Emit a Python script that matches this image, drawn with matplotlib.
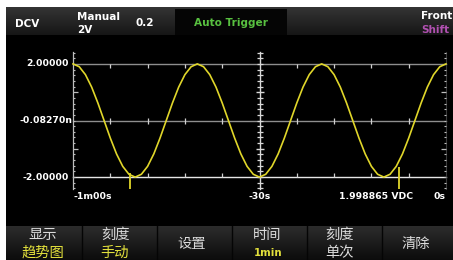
import numpy as np
import matplotlib
matplotlib.use("Agg")
import matplotlib.pyplot as plt
from matplotlib.transforms import offset_copy

# ---------------- data ----------------
time_s = list(range(-60, 1))
dcv_values = [
    2.00, 1.90, 1.62, 1.18, 0.62, 0.00, -0.62, -1.18, -1.62, -1.90,
    -2.00, -1.90, -1.62, -1.18, -0.62, 0.00, 0.62, 1.18, 1.62, 1.90,
    2.00, 1.90, 1.62, 1.18, 0.62, 0.00, -0.62, -1.18, -1.62, -1.90,
    -2.00, -1.90, -1.62, -1.18, -0.62, 0.00, 0.62, 1.18, 1.62, 1.90,
    2.00, 1.90, 1.62, 1.18, 0.62, 0.00, -0.62, -1.18, -1.62, -1.90,
    -2.00, -1.90, -1.62, -1.18, -0.62, 0.00, 0.62, 1.18, 1.62, 1.90,
    2.00,
]
marker_times = [-50.8, -7.6]
marker_tops = [-1.86, -1.64]
y_tick_values = [2.0, 0.0, -2.0]
y_tick_labels = ["2.00000", "-0.08270n", "-2.00000"]
x_label_times = [-60, -30, 0]
x_tick_labels = ["-1m00s", "-30s", "0s"]
cursor_readout = "1.998865 VDC"
cursor_time = -11.3

header_mode = "DCV"
header_range_mode = "Manual"
header_range = "2V"
header_scale = "0.2"
header_trigger = "Auto Trigger"
header_panel = "Front"
header_shift = "Shift"

softkey_top = ["显示", "刻度", "设置", "时间", "刻度", "清除"]
softkey_bottom = ["趋势图", "手动", "", "1min", "单次", ""]
softkey_bottom_colors = ["#e2e03c", "#e2e03c", None, "#e2e03c", "#dcdcdc", None]

# ---------------- figure ----------------
W, H = 453, 260
plt.rcParams["font.family"] = ["DejaVu Sans", "Noto Sans CJK SC"]
fig = plt.figure(figsize=(W / 100, H / 100), dpi=100, facecolor="white")

# background / decoration axes in pixel coordinates
bg = fig.add_axes([0, 0, 1, 1])
bg.set_xlim(0, W)
bg.set_ylim(H, 0)
bg.axis("off")
bg.add_patch(plt.Rectangle((6, 7), W - 6, H - 7, color="black", lw=0))
grad = np.linspace(0, 1, 50).reshape(-1, 1)
bg.imshow(grad, cmap=matplotlib.colors.LinearSegmentedColormap.from_list(
    "tb", ["#343434", "#161616"]), extent=[6, W, 35, 7], aspect="auto", zorder=1)
bg.imshow(grad, cmap=matplotlib.colors.LinearSegmentedColormap.from_list(
    "bb", ["#2c2c2c", "#0c0c0c"]), extent=[6, W, H, 226], aspect="auto", zorder=1)
bg.add_patch(plt.Rectangle((175, 9), 112, 26, color="#050505", lw=0, zorder=2))
bg.set_xlim(0, W)
bg.set_ylim(H, 0)

hdr = dict(color="white", fontsize=7.5, fontweight="bold", zorder=3)
bg.text(15, 24, header_mode, ha="left", va="center", **hdr)
bg.text(77, 16.5, header_range_mode, ha="left", va="center", **hdr)
bg.text(77, 30, header_range, ha="left", va="center", **hdr)
bg.text(136, 22.5, header_scale, ha="left", va="center", **hdr)
bg.text(231, 22.5, header_trigger, ha="center", va="center",
        color="#58c040", fontsize=7.6, fontweight="bold", zorder=3)
bg.text(421, 16, header_panel, ha="left", va="center", **hdr)
bg.text(421, 30, header_shift, ha="left", va="center",
        color="#b050b0", fontsize=7.5, fontweight="bold", zorder=3)

# softkeys
key_centers = [43, 115, 192, 267, 340, 416]
cjk = ["Noto Sans CJK SC", "DejaVu Sans"]
for xd in [82, 157, 232, 307, 382]:
    bg.plot([xd, xd], [226, H], color="#050505", lw=1.0, zorder=2)
for i, (top, bot) in enumerate(zip(softkey_top, softkey_bottom)):
    cx = key_centers[i]
    if bot:
        bg.text(cx, 235, top, ha="center", va="center", color="#dcdcdc",
                fontsize=10.3, family=cjk, zorder=3)
        if bot.isascii():
            bg.text(cx + 1, 253, bot, ha="center", va="center", color=softkey_bottom_colors[i],
                    fontsize=7.3, fontweight="bold", zorder=3)
        else:
            bg.text(cx, 253, bot, ha="center", va="center", color=softkey_bottom_colors[i],
                    fontsize=10.3, family=cjk, zorder=3)
    else:
        bg.text(cx, 244, top, ha="center", va="center", color="#dcdcdc",
                fontsize=10.3, family=cjk, zorder=3)

# ---------------- trend plot axes ----------------
x0, x1, ytop, ybot = 73, 446, 52, 189
ax = fig.add_axes([x0 / W, (H - ybot) / H, (x1 - x0) / W, (ybot - ytop) / H])
ax.patch.set_visible(False)
for s in ax.spines.values():
    s.set_visible(False)
ax.set_xlim(-60, 0)
ax.set_ylim(-2.42, 2.42)
ax.set_xticks([])
ax.set_yticks([])

grid_gray = "#8e8e8e"
axis_col = "#bdbdbd"
ax.plot([-60, 0], [2.0, 2.0], color=grid_gray, lw=1.0, clip_on=False)
ax.plot([-60, 0], [0.0, 0.0], color=grid_gray, lw=1.0, clip_on=False)
ax.plot([-60, 0], [-2.0, -2.0], color="#e6e6e6", lw=1.0, clip_on=False)

# vertical axes
ax.plot([-60, -60], [-2.42, 2.42], color=axis_col, lw=0.9, clip_on=False)
ax.plot([-30, -30], [-2.42, 2.42], color="#d8d8d8", lw=1.0, clip_on=False)
ax.plot([0, 0], [-2.42, 2.42], color="#3a3a3a", lw=0.8, clip_on=False)

TICKLEFT, TICKRIGHT, TICKUP, TICKDOWN = 0, 1, 2, 3
minor_y = [v for v in np.round(np.arange(-2.4, 2.41, 0.2), 2) if abs(abs(v) - 1) > 1e-6]
major_y = [-1.0, 1.0]
px = 1 / 1.389
ax.plot([-60] * len(minor_y), minor_y, ls="none", marker=TICKRIGHT, ms=2.5 * px,
        mew=0.8, color=axis_col, clip_on=False)
ax.plot([-60] * 2, major_y, ls="none", marker=TICKRIGHT, ms=5 * px, mew=0.9,
        color=axis_col, clip_on=False)
ax.plot([-30] * len(minor_y), minor_y, ls="none", marker="_", ms=6 * px,
        mew=0.9, color="#d8d8d8", clip_on=False)
ax.plot([-30] * 2, major_y, ls="none", marker="_", ms=9 * px, mew=1.0,
        color="#d8d8d8", clip_on=False)
ax.plot([0] * len(minor_y), minor_y, ls="none", marker=TICKLEFT, ms=2.5 * px,
        mew=0.8, color=axis_col, clip_on=False)
ax.plot([0] * 2, major_y, ls="none", marker=TICKLEFT, ms=5 * px, mew=0.9,
        color=axis_col, clip_on=False)

# horizontal tick marks every 6 s
hticks = [t for t in range(-54, 0, 6) if t != -30]
ax.plot(hticks, [2.0] * len(hticks), ls="none", marker=TICKDOWN, ms=4 * px, mew=0.9,
        color="#d0d0d0", clip_on=False)
ax.plot(hticks, [0.0] * len(hticks), ls="none", marker="|", ms=6 * px, mew=0.9,
        color="#d0d0d0", clip_on=False)
ax.plot(hticks, [-2.0] * len(hticks), ls="none", marker=TICKUP, ms=4 * px, mew=0.9,
        color="#d0d0d0", clip_on=False)

# trend line
ax.plot(time_s, dcv_values, color="#e0d62a", lw=1.2, clip_on=False, zorder=5)
# markers
ax.vlines(marker_times, [-2.42] * 2, marker_tops, color="#e0d62a", lw=1.3, zorder=6,
          clip_on=False)

# labels
lab = dict(color="white", fontsize=6.7, fontweight="bold")
for v, t in zip(y_tick_values, y_tick_labels):
    dx = -0.5 if t.endswith("n") else -4.5
    tr = offset_copy(ax.transData, fig=fig, x=dx, y=0, units="dots")
    ax.text(-60, v, t, ha="right", va="center", transform=tr, **lab)

trx = offset_copy(ax.transData, fig=fig, x=0, y=-7.5, units="dots")
aligns = ["left", "center", "right"]
for t, s, a in zip(x_label_times, x_tick_labels, aligns):
    ax.text(t, -2.42, s, ha=a, va="center", transform=trx, **lab)
ax.text(cursor_time, -2.42, cursor_readout, ha="center", va="center", transform=trx, **lab)

fig.savefig("out.png", dpi=100, facecolor="white")
